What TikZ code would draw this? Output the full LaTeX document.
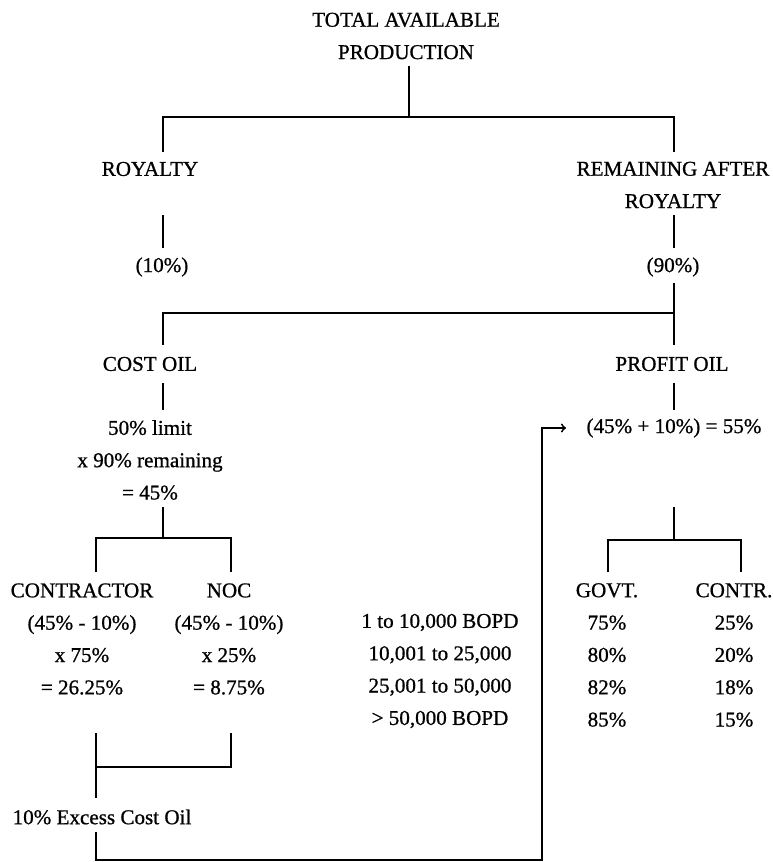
\documentclass[tikz,border=0pt]{standalone}
\usepackage{fontspec}
\setmainfont{Liberation Serif}[FakeBold=0.8]
\usetikzlibrary{arrows}

\begin{document}
\begin{tikzpicture}[x=0.025cm,y=-0.025cm]
\tikzset{txt/.style = {align=center,inner sep=0pt,font=\fontsize{15}{23}\selectfont}}
\tikzset{branch/.style = {-,line width=1.3pt}}
\tikzset{feed/.style = {->,> = to,line width=1.3pt}}
\useasboundingbox (0,0) rectangle (772,862);
% texts
\node[txt] (total) at (406,36) {TOTAL AVAILABLE\\PRODUCTION};
\node[txt] (royalty) at (150,169) {ROYALTY};
\node[txt] (remain) at (673,185) {REMAINING AFTER\\ROYALTY};
\node[txt] (roy10) at (162,267) {(10\%)};
\node[txt] (rem90) at (673,267) {(90\%)};
\node[txt] (cost) at (150,364) {COST OIL};
\node[txt] (profit) at (672,364) {PROFIT OIL};
\node[txt] (limit) at (150,460) {50\% limit\\x 90\% remaining\\= 45\%};
\node[txt] (share) at (674,428) {(45\% + 10\%) = 55\%};
\node[txt] (contractor) at (82,639) {CONTRACTOR\\(45\% - 10\%)\\x 75\%\\= 26.25\%};
\node[txt] (noc) at (229,639) {NOC\\(45\% - 10\%)\\x 25\%\\= 8.75\%};
\node[txt] (bopd) at (440,671) {1 to 10,000 BOPD\\10,001 to 25,000\\25,001 to 50,000\\> 50,000 BOPD};
\node[txt] (govt) at (607,655) {GOVT.\\75\%\\80\%\\82\%\\85\%};
\node[txt] (contr) at (734,655) {CONTR.\\25\%\\20\%\\18\%\\15\%};
\node[txt] (excess) at (102,817) {10\% Excess Cost Oil};
% line ends
\coordinate (total-s) at (409,66);
\coordinate (split1) at (409,117);
\coordinate (royalty-n) at (163,152);
\coordinate (remain-n) at (674,152);
\coordinate (royalty-s) at (163,215);
\coordinate (roy10-n) at (163,248);
\coordinate (remain-s) at (674,215);
\coordinate (rem90-n) at (674,248);
\coordinate (rem90-s) at (674,283);
\coordinate (split2) at (674,313);
\coordinate (cost-n) at (163,345);
\coordinate (profit-n) at (674,345);
\coordinate (cost-s) at (163,383);
\coordinate (limit-n) at (163,410);
\coordinate (profit-s) at (674,383);
\coordinate (share-n) at (674,410);
\coordinate (limit-s) at (163,507);
\coordinate (split3) at (163,538);
\coordinate (contractor-n) at (96,572);
\coordinate (noc-n) at (231,572);
\coordinate (share-s) at (674,507);
\coordinate (split4) at (674,540);
\coordinate (govt-n) at (608,572);
\coordinate (contr-n) at (741,572);
\coordinate (contractor-s) at (96,733);
\coordinate (noc-s) at (231,733);
\coordinate (join) at (96,767);
\coordinate (excess-n) at (96,798);
\coordinate (excess-s) at (96,832);
\coordinate (loop) at (542,860);
\coordinate (share-w) at (566,428);
% branches
\draw[branch] (total-s) -- (split1);
\draw[branch] (royalty-n) |- (split1) -| (remain-n);
\draw[branch] (royalty-s) -- (roy10-n);
\draw[branch] (remain-s) -- (rem90-n);
\draw[branch] (rem90-s) -- (profit-n);
\draw[branch] (cost-n) |- (split2);
\draw[branch] (cost-s) -- (limit-n);
\draw[branch] (profit-s) -- (share-n);
\draw[branch] (limit-s) -- (split3);
\draw[branch] (contractor-n) |- (split3) -| (noc-n);
\draw[branch] (share-s) -- (split4);
\draw[branch] (govt-n) |- (split4) -| (contr-n);
\draw[branch] (contractor-s) -- (excess-n);
\draw[branch] (noc-s) |- (join);
\draw[feed] (excess-s) |- (loop) |- (share-w);
\end{tikzpicture}
\end{document}
